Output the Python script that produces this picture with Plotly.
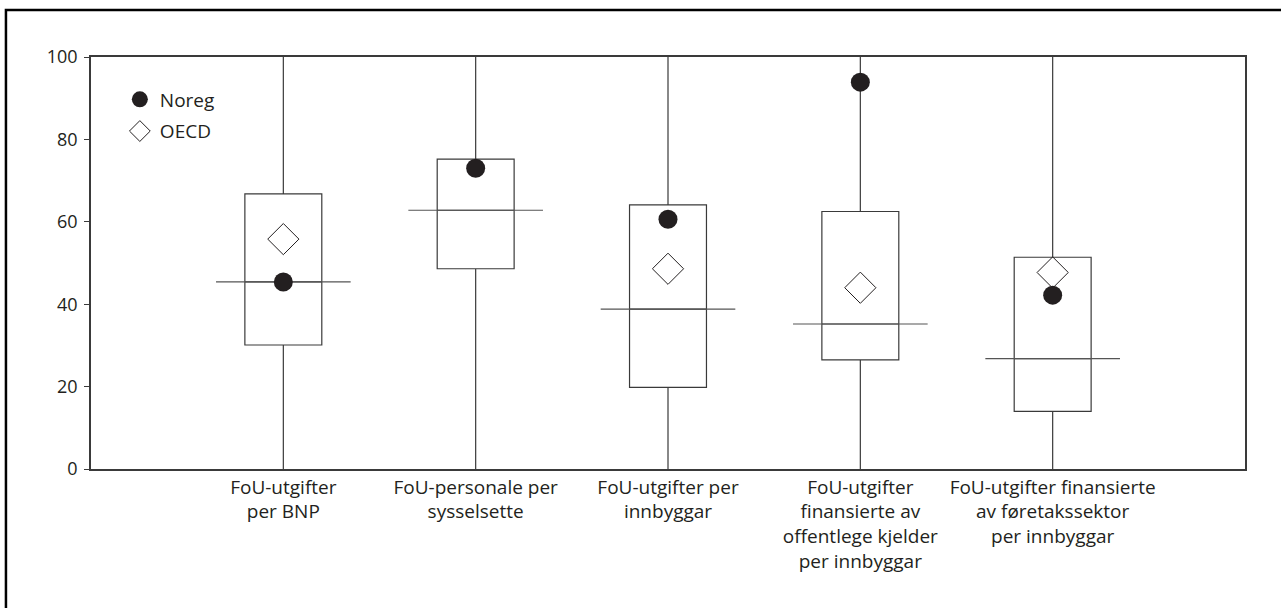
import plotly.graph_objects as go

categories = [
    "FoU-utgifter<br>per BNP",
    "FoU-personale per<br>sysselsette",
    "FoU-utgifter per<br>innbyggar",
    "FoU-utgifter<br>finansierte av<br>offentlege kjelder<br>per innbyggar",
    "FoU-utgifter finansierte<br>av føretakssektor<br>per innbyggar",
]
positions = [1, 2, 3, 4, 5]
q1 = [30.1, 48.6, 19.8, 26.5, 14.0]
median = [45.4, 62.8, 38.8, 35.2, 26.8]
q3 = [66.8, 75.2, 64.1, 62.5, 51.4]
low = [0, 0, 0, 0, 0]
high = [100, 100, 100, 100, 100]
noreg = [45.4, 73.0, 60.6, 93.9, 42.2]
oecd = [55.8, None, 48.6, 44.0, 47.7]

BOX_W = 0.4
MED_W = 0.7
LINE = "#3a3a3a"
FONT = "Open Sans, Liberation Sans, sans-serif"

fig = go.Figure()

fig.add_trace(go.Box(
    x=positions, q1=q1, median=median, q3=q3,
    lowerfence=low, upperfence=high,
    width=BOX_W, whiskerwidth=0,
    fillcolor="white", line=dict(color=LINE, width=1.2),
    showlegend=False, hoverinfo="skip",
))

# median lines extending beyond the boxes
mx, my = [], []
for p, m in zip(positions, median):
    mx += [p - MED_W / 2, p + MED_W / 2, None]
    my += [m, m, None]
fig.add_trace(go.Scatter(
    x=mx, y=my, mode="lines", line=dict(color="#555555", width=1.2),
    showlegend=False, hoverinfo="skip",
))

fig.add_trace(go.Scatter(
    x=positions, y=noreg, mode="markers", name="Noreg",
    legendgroup="a",
    marker=dict(symbol="circle", size=19, color="#231f20"),
))
fig.add_trace(go.Scatter(
    x=positions, y=oecd, mode="markers", name="OECD",
    legendgroup="b",
    marker=dict(symbol="diamond-open", size=24, color="#231f20",
                line=dict(width=1)),
))

fig.update_layout(
    width=1281, height=608,
    margin=dict(l=91, r=36, t=57, b=139),
    paper_bgcolor="white", plot_bgcolor="white",
    font=dict(family=FONT, size=19, color="#231f20"),
    showlegend=True,
    legend=dict(
        x=0.025, y=0.943, xanchor="left", yanchor="top",
        bgcolor="rgba(0,0,0,0)", font=dict(size=19),
        traceorder="grouped", tracegroupgap=4,
    ),
    xaxis=dict(
        range=[0, 6], tickvals=positions, ticktext=categories,
        showgrid=False, zeroline=False, ticks="",
        showline=True, mirror=True, linecolor=LINE, linewidth=1.5,
        tickfont=dict(size=19),
    ),
    yaxis=dict(
        range=[0, 100], tickvals=[0, 20, 40, 60, 80, 100],
        showgrid=False, zeroline=False, ticks="outside", ticklen=5,
        tickcolor=LINE, showline=True, mirror=True, linecolor=LINE,
        linewidth=1.5, tickfont=dict(size=18), ticklabelstandoff=3,
    ),
    shapes=[dict(
        type="rect", xref="paper", yref="paper",
        x0=-0.0737, x1=1.04, y0=-0.36, y1=1.114,
        line=dict(color="black", width=2.5), fillcolor="rgba(0,0,0,0)",
        layer="below",
    )],
)

fig.write_html(
    "out.html",
    config={"displayModeBar": False},
    post_script="document.body.style.margin='0px';",
)
